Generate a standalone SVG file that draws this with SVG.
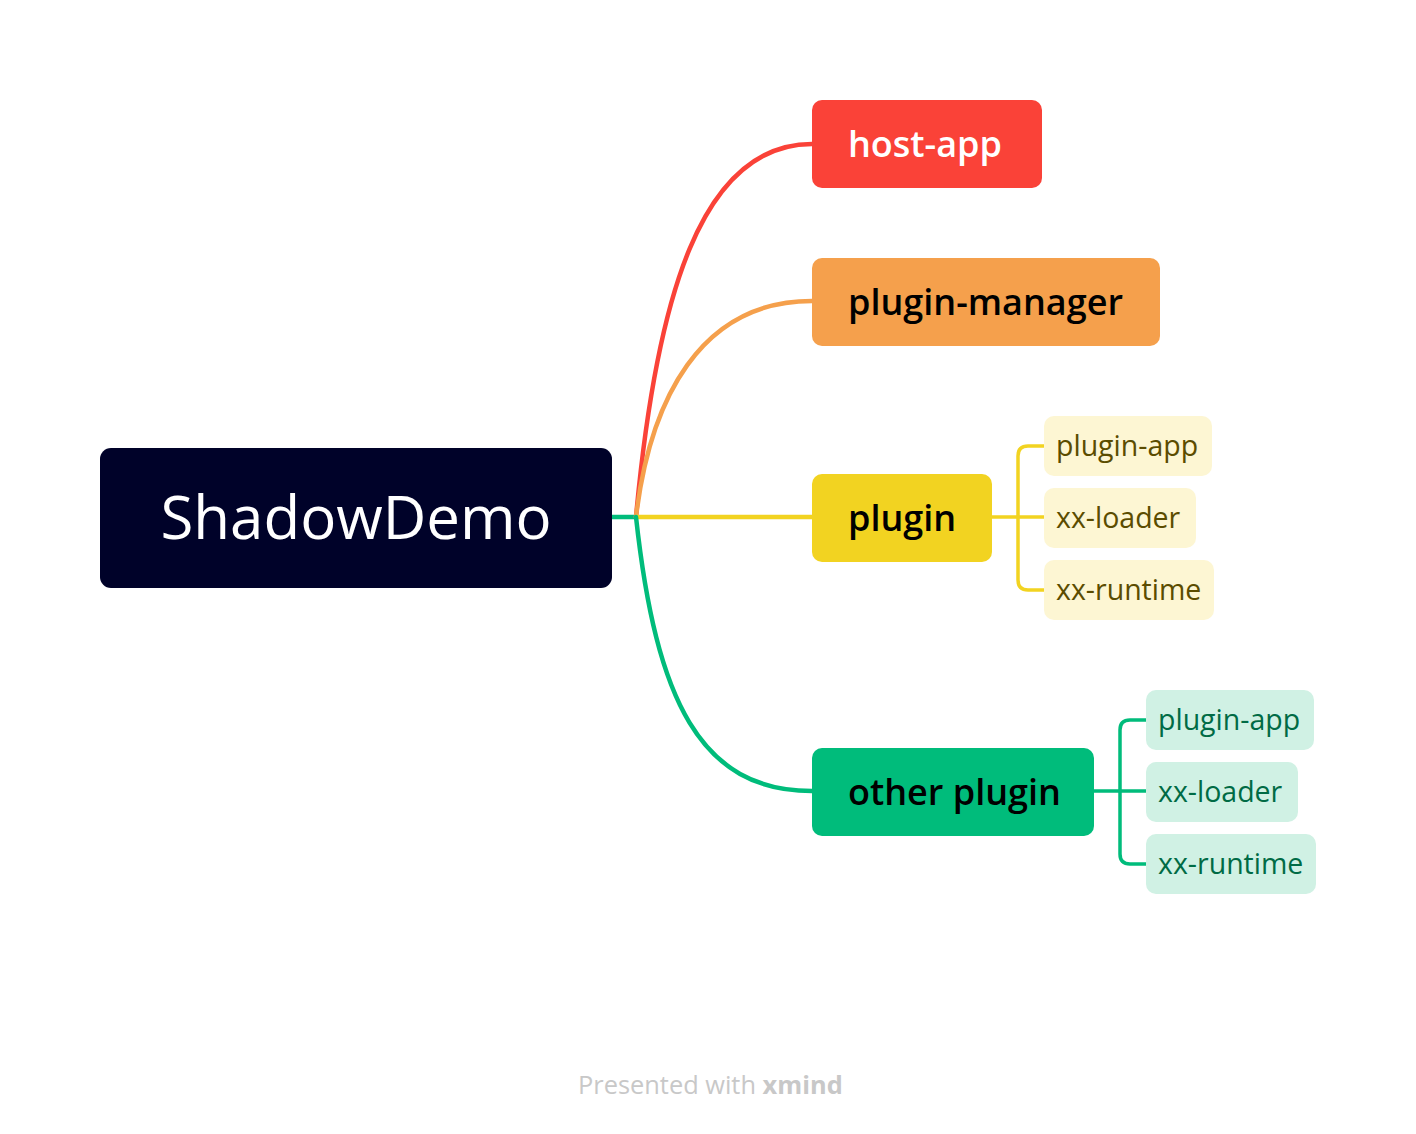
<svg xmlns="http://www.w3.org/2000/svg" width="1416" height="1134" viewBox="0 0 1416 1134">
<style>
.main{font-family:"Open Sans","Noto Sans",sans-serif;font-weight:600;font-size:36px}
.sub{font-family:"Open Sans","Noto Sans",sans-serif;font-weight:400;font-size:28.5px}
.ln{fill:none;stroke-width:4.5;stroke-linecap:round}
.sl{fill:none;stroke-width:3.5;stroke-linecap:round}
</style>
<rect width="1416" height="1134" fill="#ffffff"/>
<g id="connectors">
<path class="ln" stroke="#00BC7B" d="M612,517 L636,517"/>
<path class="ln" stroke="#FA4238" d="M636,517 C656,300 700,144 812,144"/>
<path class="ln" stroke="#F5A04C" d="M636,517 C650,400 700,301 812,301"/>
<path class="ln" stroke="#F2D321" d="M636,517 L812,517"/>
<path class="ln" stroke="#00BC7B" d="M636,517 C656,700 700,791 812,791"/>
<path class="sl" stroke="#F2D321" d="M992,517 L1044,517 M1044,446 L1028,446 Q1018,446 1018,456 L1018,580 Q1018,590 1028,590 L1044,590"/>
<path class="sl" stroke="#00BC7B" d="M1094,791 L1146,791 M1146,720 L1130,720 Q1120,720 1120,730 L1120,854 Q1120,864 1130,864 L1146,864"/>
</g>
<g id="root">
<rect x="100" y="448" width="512" height="140" rx="11" fill="#000229"/>
<text x="356" y="539" text-anchor="middle" font-family="Open Sans, Noto Sans, sans-serif" font-weight="500" font-size="60" fill="#ffffff">ShadowDemo</text>
</g>
<g id="host-app">
<rect x="812" y="100" width="230" height="88" rx="10" fill="#FA4238"/>
<text class="main" x="848" y="157" fill="#ffffff">host-app</text>
</g>
<g id="plugin-manager">
<rect x="812" y="258" width="348" height="88" rx="10" fill="#F5A04C"/>
<text class="main" x="848" y="315" fill="#000000">plugin-manager</text>
</g>
<g id="plugin">
<rect x="812" y="474" width="180" height="88" rx="10" fill="#F2D321"/>
<text class="main" x="848" y="531" fill="#000000">plugin</text>
</g>
<g id="other-plugin">
<rect x="812" y="748" width="282" height="88" rx="10" fill="#00BC7B"/>
<text class="main" x="848" y="805" fill="#000000">other plugin</text>
</g>
<g id="plugin-app-1">
<rect x="1044" y="416" width="168" height="60" rx="10" fill="#FDF6D3"/>
<text class="sub" x="1056" y="456" fill="#5B4C00">plugin-app</text>
</g>
<g id="xx-loader-1">
<rect x="1044" y="488" width="152" height="60" rx="10" fill="#FDF6D3"/>
<text class="sub" x="1056" y="528" fill="#5B4C00">xx-loader</text>
</g>
<g id="xx-runtime-1">
<rect x="1044" y="560" width="170" height="60" rx="10" fill="#FDF6D3"/>
<text class="sub" x="1056" y="600" fill="#5B4C00">xx-runtime</text>
</g>
<g id="plugin-app-2">
<rect x="1146" y="690" width="168" height="60" rx="10" fill="#D0F1E4"/>
<text class="sub" x="1158" y="730" fill="#006B45">plugin-app</text>
</g>
<g id="xx-loader-2">
<rect x="1146" y="762" width="152" height="60" rx="10" fill="#D0F1E4"/>
<text class="sub" x="1158" y="802" fill="#006B45">xx-loader</text>
</g>
<g id="xx-runtime-2">
<rect x="1146" y="834" width="170" height="60" rx="10" fill="#D0F1E4"/>
<text class="sub" x="1158" y="874" fill="#006B45">xx-runtime</text>
</g>
<text x="578" y="1094" font-family="Open Sans, Noto Sans, sans-serif" font-size="25.4" fill="#C8C8C8">Presented with <tspan font-weight="700">xmind</tspan></text>
</svg>
